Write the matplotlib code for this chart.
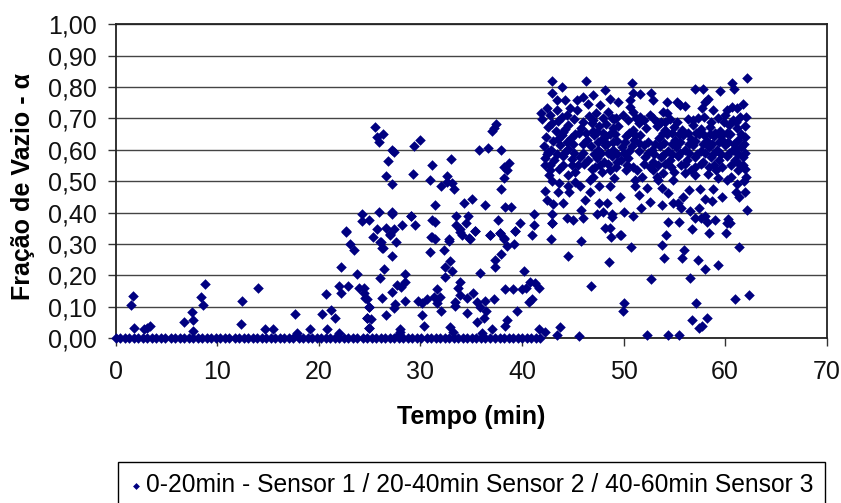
import matplotlib
matplotlib.use("Agg")
import matplotlib.pyplot as plt

plt.rcParams['font.family'] = ['Liberation Sans', 'DejaVu Sans']

# valores: (tempo em min, fracao de vazio)
tempo_zero = [0.0, 0.4, 0.9, 1.3, 1.8, 2.2, 2.7, 3.1, 3.6, 4.0, 4.5, 4.9, 5.4, 5.8, 6.3, 6.7, 7.2, 7.6,
              8.1, 8.5, 9.0, 9.4, 9.9, 10.3, 10.8, 11.2, 11.7, 12.1, 12.6, 13.0, 13.5, 13.9, 14.4, 14.8,
              15.3, 15.7, 16.2, 16.6, 17.1, 17.5, 18.0, 18.4, 18.9, 19.3, 19.8, 20.2, 20.7, 21.1, 21.6,
              22.0, 22.5, 22.9, 23.4, 23.8, 24.3, 24.7, 25.2, 25.6, 26.1, 26.5, 27.0, 27.4, 27.9, 28.3,
              28.8, 29.2, 29.7, 30.1, 30.6, 31.0, 31.5, 31.9, 32.4, 32.8, 33.3, 33.7, 34.2, 34.6, 35.1,
              35.5, 36.0, 36.4, 36.9, 37.3, 37.8, 38.2, 38.7, 39.1, 39.6, 40.0, 40.5, 40.9, 41.4, 41.8]

pontos_sensor1 = [
    (1.66, .135), (1.5, .104), (1.85, .033), (2.74, .028), (3.07, .033), (3.37, .038), (6.68, .051),
    (7.47, .082), (7.64, .056), (7.64, .022), (8.42, .13), (8.55, .104), (8.75, .172), (12.3, .045),
    (12.46, .118), (13.97, .159), (14.7, .028), (15.45, .028), (17.68, .075), (17.85, .015), (19.16, .028),
]

pontos_sensor2 = [
    (20.3, .075), (20.84, .028), (20.67, .141), (21.23, .088), (21.6, .064), (21.95, .166), (22.18, .142),
    (22.18, .225), (21.95, .017), (22.87, .166), (22.7, .339), (23.1, .3), (23.43, .28), (23.8, .203),
    (24.0, .16), (24.4, .16), (24.4, .142), (24.7, .124), (24.9, .1), (24.75, .063), (24.9, .033),
    (25.53, .673), (26.29, .649), (25.73, .642), (25.9, .624), (27.2, .6), (27.4, .593), (29.4, .612),
    (30.0, .63), (26.77, .564), (26.65, .516), (27.2, .491), (29.25, .522), (25.9, .401), (27.2, .401),
    (27.2, .395), (24.2, .395), (24.2, .372), (24.97, .377), (29.05, .39), (29.44, .359), (22.7, .341),
    (25.73, .347), (26.65, .352), (27.4, .347), (28.16, .359), (27.0, .328), (25.34, .323), (26.13, .305),
    (27.57, .305), (26.29, .286), (32.99, .57), (31.11, .552), (30.92, .503), (32.6, .517), (32.04, .485),
    (32.6, .498), (33.15, .493), (33.35, .474), (35.74, .6), (36.7, .606), (37.98, .6), (37.06, .66),
    (37.45, .681), (37.2, .668), (38.74, .558), (38.2, .546), (38.54, .535), (38.2, .51), (37.98, .474),
    (35.03, .444), (34.27, .431), (36.34, .425), (31.48, .425), (38.37, .418), (38.93, .418), (41.16, .395),
    (33.5, .39), (34.66, .39), (29.08, .39), (37.62, .377), (31.11, .377), (31.48, .37), (34.47, .365),
    (39.85, .365), (33.5, .359), (41.16, .359), (33.9, .346), (35.39, .341), (39.3, .341), (37.8, .334),
    (34.1, .328), (36.87, .328), (41.0, .328), (31.11, .323), (32.79, .316), (34.83, .319), (38.2, .319),
    (27.05, .331), (26.06, .307), (26.26, .286), (27.2, .262), (26.45, .22), (28.52, .203), (26.06, .19),
    (28.52, .177), (28.13, .163), (27.7, .169), (27.2, .147), (26.26, .128), (24.58, .126), (24.95, .1),
    (28.52, .118), (27.54, .107), (27.37, .095), (26.65, .074), (24.75, .063), (25.14, .06), (24.95, .033),
    (27.96, .028), (30.92, .274), (32.3, .28), (31.05, .323), (31.48, .317), (32.79, .31), (33.94, .339),
    (35.42, .341), (34.86, .317), (36.9, .328), (37.88, .335), (38.2, .314), (38.54, .293), (39.19, .3),
    (39.3, .341), (37.98, .267), (37.39, .25), (37.39, .225), (40.18, .214), (35.9, .206), (32.96, .245),
    (32.46, .227), (33.12, .214), (32.4, .195), (33.87, .177), (31.67, .155), (38.37, .155), (39.13, .155),
    (40.0, .155), (40.77, .177), (41.33, .174), (41.72, .159), (40.4, .158), (33.67, .158), (33.94, .137),
    (33.45, .116), (31.97, .13), (31.38, .13), (30.6, .123), (29.77, .118), (30.17, .11), (31.64, .11),
    (32.04, .087), (33.45, .103), (34.6, .126), (35.19, .142), (35.59, .116), (35.9, .098), (36.4, .118),
    (37.22, .123), (36.5, .087), (36.3, .063), (34.63, .081), (30.17, .074), (35.59, .051), (38.54, .057),
    (38.37, .038), (30.39, .038), (32.96, .034), (37.06, .028), (39.46, .087), (40.67, .116), (41.0, .124),
    (41.7, .03), (28.0, .02), (33.2, .018), (36.1, .015), (27.9, .012),
]

pontos_sensor3 = [
    # parte baixa e isolada
    (42.3, .02), (43.73, .034), (43.47, .01), (45.6, .007), (52.33, .008), (50.03, .112), (49.9, .087),
    (46.75, .166), (52.66, .188), (43.0, .365), (42.84, .315), (45.8, .31), (44.5, .261), (48.55, .243),
    (50.7, .291), (48.8, .323), (49.7, .328), (48.2, .35), (48.7, .352), (53.76, .296), (55.98, .281),
    (53.96, .256), (55.8, .256), (57.3, .25), (58.05, .22), (59.33, .232), (61.4, .291), (56.55, .19),
    (57.1, .111), (61.0, .123), (62.35, .136), (56.75, .057), (58.2, .064), (57.7, .039), (57.43, .033),
    (54.35, .009), (55.43, .009),
    # faixa 0,32 a 0,50
    (49.64, .329), (54.15, .329), (56.76, .347), (58.4, .335), (60.08, .334), (42.98, .365), (54.33, .37),
    (55.45, .37), (44.46, .382), (44.98, .376), (46.03, .383), (42.98, .395), (45.77, .408), (47.4, .395),
    (48.0, .401), (48.9, .395), (48.9, .386), (50.04, .401), (50.96, .39), (51.7, .413), (56.57, .405),
    (57.03, .384), (57.6, .384), (58.0, .389), (58.18, .37), (59.0, .377), (60.24, .378), (60.47, .365),
    (60.2, .365), (62.15, .407), (57.45, .413), (55.7, .413), (53.75, .425), (52.6, .434), (54.9, .431),
    (44.07, .431), (47.6, .431), (48.37, .431), (46.2, .439), (43.08, .426), (42.43, .439), (42.26, .469),
    (43.5, .467), (44.66, .464), (46.69, .466), (49.64, .45), (51.55, .455), (58.0, .442), (58.67, .437),
    (59.7, .45), (61.4, .45), (61.95, .466), (61.07, .466), (57.52, .474), (58.83, .475), (56.4, .471),
    (55.88, .45), (55.4, .429), (54.4, .463), (53.75, .477), (52.27, .477), (51.1, .484), (48.66, .485),
    (47.6, .485), (45.7, .484), (45.2, .498), (44.56, .484), (43.64, .493), (46.69, .503), (53.4, .503),
    (54.9, .505), (51.1, .503), (42.26, .551), (42.66, .519), (44.56, .519), (45.2, .53), (44.07, .551),
    (44.9, .551), (45.55, .551), (47.2, .546), (47.0, .514), (47.85, .53), (48.66, .535), (49.3, .546),
    (50.3, .551), (51.3, .535), (51.8, .514), (52.6, .546), (53.9, .526), (53.26, .514), (54.7, .546),
    (55.7, .551), (57.0, .546), (57.0, .519), (58.3, .524), (59.3, .509), (59.65, .546), (60.6, .514),
    (59.15, .535), (61.3, .535), (62.1, .512), (61.8, .551), (60.14, .503), (54.06, .556), (61.2, .49),
    (61.85, .5), (49.1, .51), (56.0, .525), (43.0, .5), (42.5, .585),
    # topo
    (42.98, .818), (43.9, .8), (46.3, .818), (50.8, .812), (62.15, .83), (60.67, .812), (60.83, .793),
    (59.52, .788), (57.85, .794), (57.03, .793), (42.98, .782), (47.02, .776), (48.17, .789), (50.96, .782),
    (51.6, .779), (52.67, .782), (58.34, .763), (43.4, .758), (44.23, .758), (45.38, .758), (46.03, .768),
    (48.66, .763), (50.63, .758), (52.92, .758), (54.3, .753), (55.23, .753), (46.46, .747), (49.48, .753),
    (61.78, .747), (55.55, .744), (56.04, .74), (58.0, .751), (47.7, .742), (42.43, .733), (43.4, .726),
    (44.7, .733), (45.38, .726), (50.63, .737), (57.68, .733), (60.64, .737), (61.13, .733), (58.83, .726),
    (60.14, .726), (53.9, .721), (41.87, .716), (42.76, .71), (54.3, .716), (52.6, .712), (56.37, .697),
    (57.35, .702), (62.1, .705), (42.0, .697), (43.57, .691), (51.6, .705),
    # miolo denso
    (43.9, .705), (45.1, .698), (46.6, .708), (47.3, .716), (48.0, .702), (48.5, .722), (49.1, .697),
    (49.9, .712), (50.9, .722), (52.0, .695), (52.9, .702), (53.7, .69), (54.6, .698), (55.3, .688),
    (57.9, .706), (58.6, .69), (59.3, .7), (60.0, .712), (60.8, .694), (61.5, .704),
    (42.6, .672), (43.3, .66), (44.5, .68), (45.8, .668), (46.9, .684), (47.6, .676), (48.3, .682),
    (49.0, .668), (49.5, .676), (50.9, .662), (51.5, .684), (52.2, .668), (53.3, .676), (54.1, .664),
    (55.0, .672), (55.8, .662), (56.8, .678), (57.6, .666), (58.5, .672), (59.5, .66), (60.4, .678),
    (61.2, .668), (62.0, .676),
    (42.4, .64), (43.1, .628), (43.9, .648), (44.8, .636), (45.6, .652), (46.4, .63), (47.1, .646),
    (47.9, .634), (48.7, .65), (49.4, .628), (50.2, .644), (51.0, .632), (51.6, .648), (53.5, .638),
    (54.3, .65), (55.1, .63), (55.9, .646), (56.6, .634), (57.4, .65), (58.2, .628), (58.9, .644),
    (59.7, .632), (60.5, .65), (61.3, .63), (62.0, .642),
    (42.2, .612), (42.9, .6), (43.7, .616), (44.5, .604), (46.0, .59), (46.8, .612), (47.5, .6),
    (48.2, .616), (49.0, .598), (49.8, .61), (50.5, .596), (52.0, .614), (52.8, .6), (53.6, .612),
    (54.4, .596), (55.2, .61), (56.0, .6), (56.8, .614), (57.6, .596), (58.4, .608), (59.2, .6),
    (60.0, .616), (60.8, .598), (61.6, .61),
    (42.3, .575), (43.2, .566), (44.0, .58), (44.9, .572), (45.7, .578), (46.5, .566), (47.4, .574),
    (48.1, .562), (48.9, .58), (49.7, .568), (50.4, .574), (52.1, .578), (52.9, .562), (53.7, .576),
    (54.6, .566), (55.4, .58), (56.2, .568), (57.0, .576), (57.8, .562), (58.6, .578), (59.4, .568),
    (60.2, .58), (61.0, .566), (61.8, .576),
    (48.3, .645), (50.1, .625), (47.0, .66), (49.3, .7), (44.2, .665), (45.0, .62), (56.4, .62),
    (59.0, .655), (60.9, .62), (42.8, .55), (50.0, .59), (53.0, .585),
    # preenchimento entre as linhas do miolo
    (44.4, .71), (46.0, .69), (47.0, .695), (48.9, .7), (50.4, .695), (51.2, .7), (53.3, .69), (54.1, .69),
    (56.8, .695), (59.9, .69), (61.1, .69), (43.0, .685), (44.0, .658), (45.2, .65), (46.3, .652),
    (47.4, .658), (48.0, .655), (49.2, .65), (50.5, .655), (51.1, .648), (53.9, .655), (54.8, .652),
    (55.5, .65), (56.3, .655), (57.1, .652), (57.9, .648), (58.5, .65), (59.6, .645), (60.2, .655),
    (61.6, .65), (43.5, .635), (44.4, .625), (46.0, .618), (47.5, .625), (48.4, .618), (49.0, .625),
    (50.8, .612), (51.5, .622), (52.4, .625), (53.1, .62), (54.0, .622), (54.8, .618), (55.6, .625),
    (57.0, .628), (57.8, .62), (58.7, .618), (59.4, .625), (60.3, .625), (61.0, .605), (61.9, .62),
    (42.6, .592), (43.4, .588), (44.2, .592), (45.1, .59), (47.1, .585), (47.8, .59), (48.5, .59),
    (49.4, .585), (51.5, .595), (52.4, .59), (53.9, .582), (54.8, .588), (55.6, .59), (56.4, .59),
    (57.2, .585), (58.0, .59), (58.8, .585), (59.6, .588), (60.4, .59), (61.3, .585), (62.0, .59),
    (42.8, .535), (43.6, .54), (46.1, .555), (46.9, .54), (47.7, .55), (48.5, .555), (49.4, .56),
    (50.2, .535), (50.9, .545), (52.0, .555), (52.9, .535), (53.4, .55), (55.0, .53), (56.0, .555),
    (56.6, .535), (57.6, .555), (58.4, .545), (58.9, .55), (60.6, .55), (61.4, .555), (62.0, .54),
]

eixo_x = [0, 10, 20, 30, 40, 50, 60, 70]
eixo_y = [0.0, 0.1, 0.2, 0.3, 0.4, 0.5, 0.6, 0.7, 0.8, 0.9, 1.0]

fig = plt.figure(figsize=(8.41, 5.03), dpi=100)
ax = fig.add_axes([115.7 / 841, 1 - 338 / 503, (826.7 - 115.7) / 841, (338 - 24.3) / 503])

todos = pontos_sensor1 + pontos_sensor2 + pontos_sensor3
tempo = tempo_zero + [p[0] for p in todos]
alfa = [0.0] * len(tempo_zero) + [p[1] for p in todos]

ax.scatter(tempo, alfa, marker='D', s=29, color='#000080', linewidths=0, clip_on=False, zorder=3,
           label='0-20min - Sensor 1 / 20-40min Sensor 2 / 40-60min Sensor 3')

ax.set_xlim(0, 70)
ax.set_ylim(0, 1)
ax.set_xticks(eixo_x)
ax.set_yticks(eixo_y)
ax.set_yticklabels([f'{v:.2f}'.replace('.', ',') for v in eixo_y])
ax.tick_params(axis='both', direction='out', length=5.8, width=1, color='#333333', labelsize=18,
               labelcolor='#111111')
ax.tick_params(axis='x', pad=10)
ax.tick_params(axis='y', pad=7.7)
ax.grid(True, axis='y', color='#444444', linewidth=1)
ax.set_axisbelow(True)
for lado in ax.spines:
    ax.spines[lado].set_linewidth(1.3)
    ax.spines[lado].set_color('#222222')

fig.text(471 / 841, 1 - 417 / 503, 'Tempo (min)', fontsize=18, fontweight='bold', ha='center', va='center')
fig.text(23 / 841, 1 - 186 / 503, 'Fração de Vazio - α', fontsize=18, fontweight='bold', rotation=90,
         ha='center', va='center')

leg = fig.legend(loc='upper left', bbox_to_anchor=(118 / 841, 1 - 462 / 503), fontsize=17.75, frameon=True,
                 fancybox=False, edgecolor='black', framealpha=1, borderpad=0.45, handlelength=0.6,
                 handletextpad=0.1, markerscale=0.65, scatterpoints=1, borderaxespad=0)
leg.get_frame().set_linewidth(1)

fig.savefig('out.png', dpi=100)
